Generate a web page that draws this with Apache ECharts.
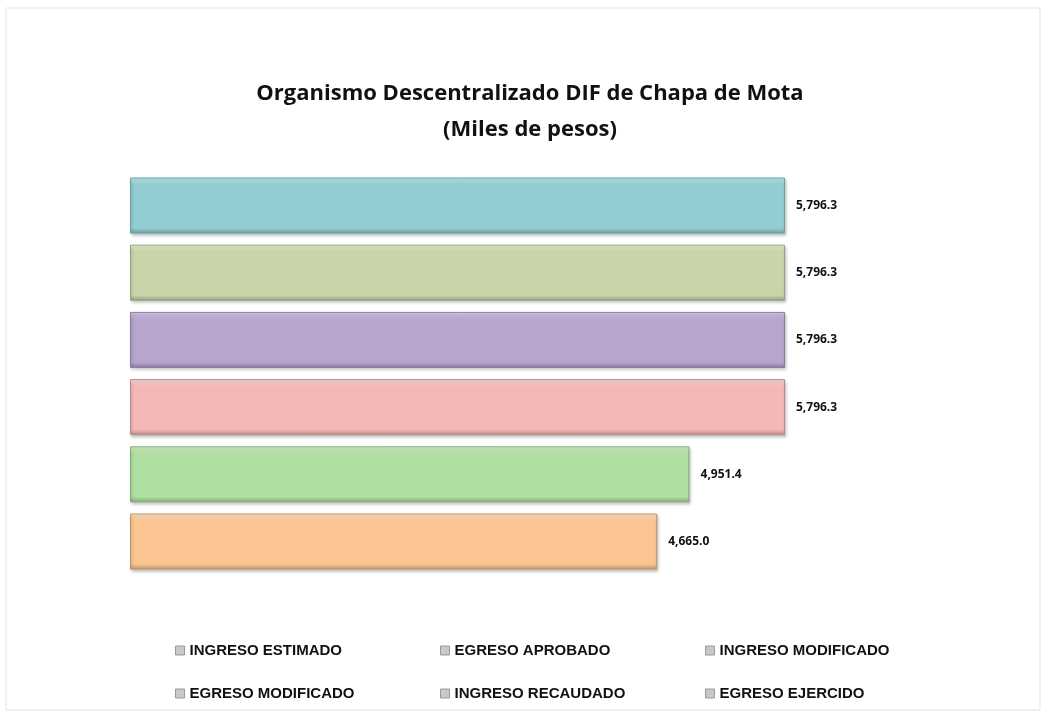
<!DOCTYPE html>
<html>
<head>
<meta charset="utf-8">
<title>Organismo Descentralizado DIF de Chapa de Mota</title>
<style>
  html, body { margin: 0; padding: 0; background: #fff; }
  #chart { width: 1048px; height: 717px; }
</style>
</head>
<body>
<div id="chart"></div>
<script src="https://cdn.jsdelivr.net/npm/echarts@6/dist/echarts.min.js"></script>
<script>
var categories = ['Total'];
var seriesNames = ['INGRESO ESTIMADO', 'EGRESO APROBADO', 'INGRESO MODIFICADO',
                   'EGRESO MODIFICADO', 'INGRESO RECAUDADO', 'EGRESO EJERCIDO'];
var seriesValues = [5796.3, 5796.3, 5796.3, 5796.3, 4951.4, 4665.0];
// top highlight, body, bottom edge
var barColors = [
  ['#c4eef0', '#93cdd1', '#6f9fa3'],
  ['#eef5d8', '#c8d5a9', '#98a27e'],
  ['#dcd0ee', '#b7a5d0', '#8a7aa0'],
  ['#fde0de', '#f2b9b8', '#b88a89'],
  ['#d8f5cc', '#b0e0a1', '#82ad76'],
  ['#ffe8c8', '#fbc592', '#c0946a']
];

var fmt = function (v) {
  return v.toLocaleString('en-US', { minimumFractionDigits: 1, maximumFractionDigits: 1 });
};

var dom = document.getElementById('chart');
var myChart = echarts.init(dom);

var series = seriesNames.map(function (name, i) {
  var c = barColors[i];
  return {
    name: name,
    type: 'bar',
    data: [seriesValues[i]],
    barWidth: 56,
    barGap: '20%',
    itemStyle: {
      color: new echarts.graphic.LinearGradient(0, 0, 0, 1, [
        { offset: 0, color: c[0] },
        { offset: 0.12, color: c[1] },
        { offset: 0.9, color: c[1] },
        { offset: 1, color: c[2] }
      ]),
      borderColor: c[2],
      borderWidth: 1,
      shadowColor: 'rgba(0,0,0,0.25)',
      shadowBlur: 3,
      shadowOffsetX: 1,
      shadowOffsetY: 2
    },
    label: {
      show: true,
      position: 'right',
      distance: 11,
      color: '#111',
      fontSize: 12,
      fontWeight: 'bold',
      fontFamily: 'Open Sans',
      formatter: function (p) { return fmt(p.value); }
    }
  };
});

var legendText = {
  color: '#111',
  fontSize: 15,
  fontWeight: 'bold',
  fontFamily: 'Liberation Sans'
};
var legendIcon = { color: '#c8c8c8', borderColor: '#999', borderWidth: 1 };

function makeLegend(left, names) {
  return {
    left: left,
    top: 638,
    orient: 'vertical',
    itemGap: 28,
    itemWidth: 9,
    itemHeight: 9,
    icon: 'rect',
    itemStyle: legendIcon,
    textStyle: legendText,
    selectedMode: false,
    data: names
  };
}

option = {
  backgroundColor: '#fff',
  animation: false,
  title: {
    text: 'Organismo Descentralizado DIF de Chapa de Mota\n(Miles de pesos)',
    left: 525,
    textAlign: 'center',
    top: 71,
    textStyle: {
      fontSize: 22,
      fontWeight: 'bold',
      color: '#111',
      fontFamily: 'Open Sans',
      lineHeight: 36
    }
  },
  graphic: [{
    type: 'rect',
    shape: { x: 6, y: 8, width: 1034, height: 702 },
    style: { fill: 'none', stroke: '#e2e2e2', lineWidth: 1 },
    silent: true
  }],
  legend: [
    makeLegend(170, [seriesNames[0], seriesNames[3]]),
    makeLegend(435, [seriesNames[1], seriesNames[4]]),
    makeLegend(700, [seriesNames[2], seriesNames[5]])
  ],
  grid: { left: 130, right: 263, top: 172, height: 403 },
  xAxis: {
    type: 'value',
    min: 0,
    max: 5796.3,
    show: false
  },
  yAxis: {
    type: 'category',
    data: categories,
    inverse: true,
    show: false
  },
  series: series
};

myChart.setOption(option, true);
</script>
</body>
</html>
